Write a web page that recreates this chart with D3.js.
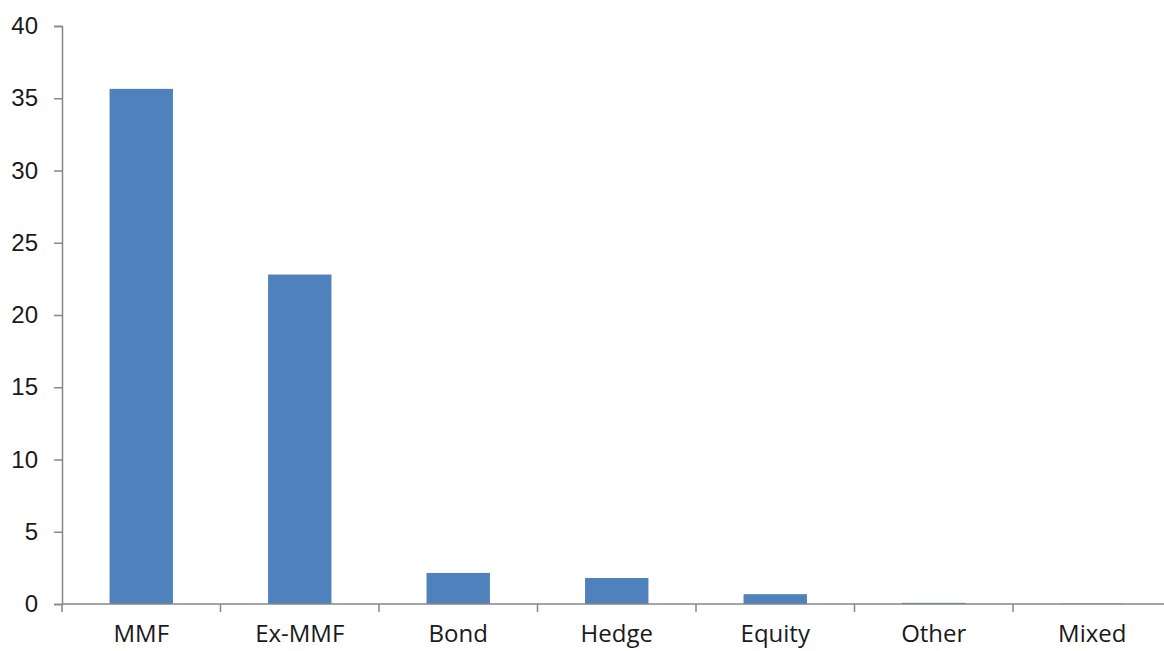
<!DOCTYPE html>
<html>
<head>
<meta charset="utf-8">
<script src="https://cdn.jsdelivr.net/npm/d3@7"></script>
<style>
  html, body { margin: 0; padding: 0; background: #fff; }
  svg { display: block; font-family: "Open Sans", "Liberation Sans", sans-serif; }
</style>
</head>
<body>
<div id="chart"></div>
<script>
const categories = ['MMF', 'Ex-MMF', 'Bond', 'Hedge', 'Equity', 'Other', 'Mixed'];
const values = [35.65, 22.8, 2.15, 1.8, 0.68, 0.08, 0.02];
const yTicks = [0, 5, 10, 15, 20, 25, 30, 35, 40];

const W = 1164, H = 651;
const x0 = 62, x1 = 1171.5, yTop = 26, yBase = 604;

const svg = d3.select('#chart').append('svg')
  .attr('width', W).attr('height', H);

const x = d3.scaleBand()
  .domain(categories)
  .range([x0, x1])
  .paddingInner(0.6)
  .paddingOuter(0.3);

const y = d3.scaleLinear().domain([0, 40]).range([yBase, yTop]);

const axisColor = '#868686';

// bars
svg.selectAll('rect.bar')
  .data(categories.map((c, i) => ({ c, v: values[i] })))
  .join('rect')
  .attr('class', 'bar')
  .attr('x', d => x(d.c))
  .attr('y', d => y(d.v))
  .attr('width', x.bandwidth())
  .attr('height', d => yBase - y(d.v))
  .attr('fill', '#4f81bd');

// y axis
const yAxis = svg.append('g')
  .attr('transform', `translate(${x0},0)`)
  .call(d3.axisLeft(y).tickValues(yTicks).tickSize(8).tickPadding(16).tickFormat(d3.format('d')));
yAxis.select('.domain').attr('stroke', axisColor).attr('stroke-width', 1.5);
yAxis.selectAll('.tick line').attr('stroke', axisColor).attr('stroke-width', 1.5);
yAxis.selectAll('.tick text')
  .attr('fill', '#1a1a1a')
  .style('font-size', '24px');

// x axis
const step = x.step();
const bounds = d3.range(categories.length + 1).map(i => x0 + i * step);
const xAxis = svg.append('g');
xAxis.append('line')
  .attr('x1', x0).attr('x2', x1)
  .attr('y1', yBase).attr('y2', yBase)
  .attr('stroke', axisColor).attr('stroke-width', 1.5);
xAxis.selectAll('line.tk')
  .data(bounds)
  .join('line')
  .attr('class', 'tk')
  .attr('x1', d => d).attr('x2', d => d)
  .attr('y1', yBase).attr('y2', yBase + 8)
  .attr('stroke', axisColor).attr('stroke-width', 1.5);
xAxis.selectAll('text')
  .data(categories)
  .join('text')
  .attr('x', d => x(d) + x.bandwidth() / 2)
  .attr('y', 642)
  .attr('text-anchor', 'middle')
  .attr('fill', '#1a1a1a')
  .style('font-size', '24px')
  .text(d => d);
</script>
</body>
</html>
